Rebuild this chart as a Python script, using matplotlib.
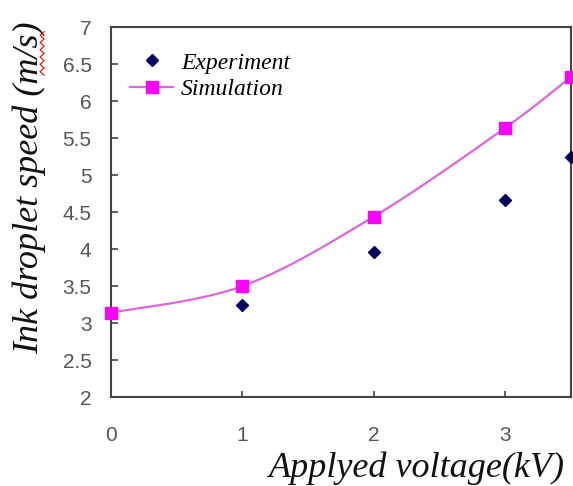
import numpy as np
import matplotlib
matplotlib.use("Agg")
import matplotlib.pyplot as plt
from matplotlib.lines import Line2D

# Data
voltage = [0, 1, 2, 3, 3.5]
experiment = [3.14, 3.25, 3.96, 4.67, 5.24]
simulation = [3.14, 3.50, 4.44, 5.64, 6.33]
x_ticks = [0, 1, 2, 3]
y_ticks = [2, 2.5, 3, 3.5, 4, 4.5, 5, 5.5, 6, 6.5, 7]
y_tick_labels = ["2", "2.5", "3", "3.5", "4", "4.5", "5", "5.5", "6", "6.5", "7"]


def smooth_curve(xs, ys, n=40):
    """Excel-like Bezier smoothing through the data points."""
    P = np.column_stack([xs, ys]).astype(float)
    Pe = np.vstack([P[0], P, P[-1]])
    out = []
    for i in range(len(P) - 1):
        p0, p1, p2, p3 = Pe[i], Pe[i + 1], Pe[i + 2], Pe[i + 3]
        c1 = p1 + (p2 - p0) / 6.0
        c2 = p2 - (p3 - p1) / 6.0
        t = np.linspace(0, 1, n)[:, None]
        seg = ((1 - t) ** 3) * p1 + 3 * ((1 - t) ** 2) * t * c1 + 3 * (1 - t) * t ** 2 * c2 + t ** 3 * p2
        out.append(seg if i == 0 else seg[1:])
    out = np.vstack(out)
    return out[:, 0], out[:, 1]


fig = plt.figure(figsize=(5.73, 4.86), dpi=100)
ax = fig.add_axes([0.1937, 0.183, 0.8028, 0.761])

sx, sy = smooth_curve(voltage, simulation)
ax.plot(sx, sy, color="#dd66dd", lw=1.6, zorder=2, clip_on=False)
ax.plot(voltage, experiment, linestyle="none", marker="D", ms=6.5,
        color="#00005e", zorder=3, clip_on=False)
ax.plot(voltage, simulation, linestyle="none", marker="s", ms=8,
        color="#ff00ff", zorder=4, clip_on=False)

ax.set_xlim(0, 3.5)
ax.set_ylim(2, 7)
ax.set_xticks(x_ticks)
ax.set_xticklabels([str(v) for v in x_ticks])
ax.set_yticks(y_ticks)
ax.set_yticklabels(y_tick_labels)

for lab in ax.get_xticklabels() + ax.get_yticklabels():
    lab.set_fontfamily("Liberation Sans")
    lab.set_fontsize(15)
    lab.set_color("#555555")

ax.tick_params(axis="y", direction="in", length=5, width=1.2, color="#444444", pad=14)
ax.tick_params(axis="x", direction="in", length=4, width=1.2, color="#444444", pad=21)
for s in ax.spines.values():
    s.set_color("#444444")
    s.set_linewidth(1.5)

ax.set_xlabel("Applyed voltage(kV)", family="Liberation Serif", style="italic",
              fontsize=26, color="#111111")
ax.xaxis.set_label_coords(0.666, -0.147)
ax.set_ylabel("Ink droplet speed (m/s)", family="Liberation Serif", style="italic",
              fontsize=26, color="#111111")
ax.yaxis.set_label_coords(-0.14, 0.565)

handles = [
    Line2D([], [], linestyle="none", marker="D", ms=6.5, color="#00005e"),
    Line2D([], [], color="#dd66dd", lw=1.6, marker="s", ms=8,
           markerfacecolor="#ff00ff", markeredgecolor="#ff00ff"),
]
leg = ax.legend(handles, ["Experiment", "Simulation"], loc="upper left",
                bbox_to_anchor=(-0.004, 0.99), frameon=False,
                prop={"family": "Liberation Serif", "style": "italic", "size": 17},
                handlelength=1.8, handletextpad=0.35, labelspacing=0.2)

# red spell-check squiggle next to the y label "m"
zx = np.array([0.077 if i % 2 == 0 else 0.070 for i in range(13)])
zy = np.linspace(0.935, 0.845, 13)
fig.add_artist(Line2D(zx, zy, color="red", lw=0.8, transform=fig.transFigure))

fig.savefig("out.png", dpi=100)
